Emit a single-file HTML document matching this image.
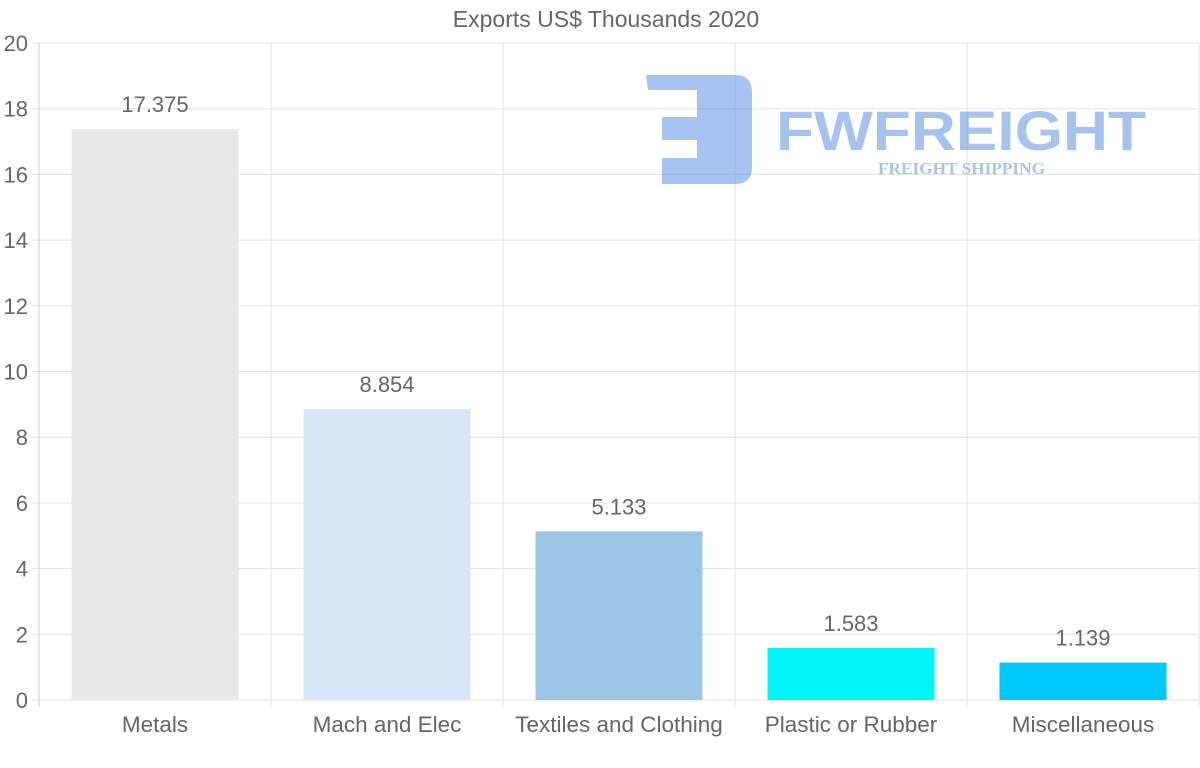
<!DOCTYPE html>
<html><head><meta charset="utf-8"><style>
html,body{margin:0;padding:0;background:#fff;}
svg text{font-family:"Liberation Sans",sans-serif;}
</style></head><body>
<svg id="chart" width="1200" height="763" xmlns="http://www.w3.org/2000/svg">
<text x="606" y="27" font-size="23" fill="#666" text-anchor="middle">Exports US$ Thousands 2020</text>
<g id="grid"></g>
<g id="bars"></g>
<g id="watermark" opacity="0.45">
<path d="M646 75 H735 Q752 75 752 92 V167 Q752 184 735 184 H662 V158 H697 V140 H662 V117 H697 V90 H648 Z" fill="#3b7be0"/>
<text x="776" y="150" font-size="56" font-weight="bold" fill="#3b7be0" textLength="370" lengthAdjust="spacingAndGlyphs">FWFREIGHT</text>
<text x="878" y="174" font-size="17" font-weight="bold" fill="#3b7be0" textLength="167" lengthAdjust="spacingAndGlyphs" style="font-family:'Liberation Serif',serif">FREIGHT SHIPPING</text>
</g>
</svg>
<script>
const categories=["Metals","Mach and Elec","Textiles and Clothing","Plastic or Rubber","Miscellaneous"];
const values=[17.375,8.854,5.133,1.583,1.139];
const valueLabels=["17.375","8.854","5.133","1.583","1.139"];
const yTicks=[0,2,4,6,8,10,12,14,16,18,20];
const colors=["#e8e8e8","#d6e6f8","#9dc5e8","#00f5f7","#00c8fb"];
const NS="http://www.w3.org/2000/svg";
const L=39,R=1199,T=43,B=700,yMax=20;
const y=v=>B-(v/yMax)*(B-T);
const band=(R-L)/categories.length;
const x=i=>L+i*band;
const grid=document.getElementById('grid'),bars=document.getElementById('bars');
function mk(tag,attrs,parent){const e=document.createElementNS(NS,tag);for(const k in attrs)e.setAttribute(k,attrs[k]);parent.appendChild(e);return e;}
yTicks.forEach(t=>{
  const l=mk('line',{x1:L-7,x2:R,y1:y(t),y2:y(t),stroke:'#e3e3e3','stroke-width':1},grid);
  
  
  const tx=mk('text',{x:L-11,y:y(t)+8,'font-size':22,fill:'#666','text-anchor':'end'},grid);
  tx.textContent=t;
  
  
});
for(let i=0;i<=categories.length;i++){
  const l=mk('line',{x1:x(i),x2:x(i),y1:T,y2:B+7,stroke:i==0?'#ccc':'#e3e3e3','stroke-width':1},grid);
  
  
}
categories.forEach((c,i)=>{
  const bw=band*0.72,bx=x(i)+(band-bw)/2;
  const r=mk('rect',{x:bx,y:y(values[i]),width:bw,height:B-y(values[i]),fill:colors[i]},bars);
  
  
  const v=mk('text',{x:x(i)+band/2,y:y(values[i])-17,'font-size':22,fill:'#666','text-anchor':'middle'},bars);
  v.textContent=valueLabels[i];
  
  
  const xl=mk('text',{x:x(i)+band/2,y:732,'font-size':22.5,fill:'#666','text-anchor':'middle'},bars);
  xl.textContent=c;
  
  
});
</script>
</body></html>
